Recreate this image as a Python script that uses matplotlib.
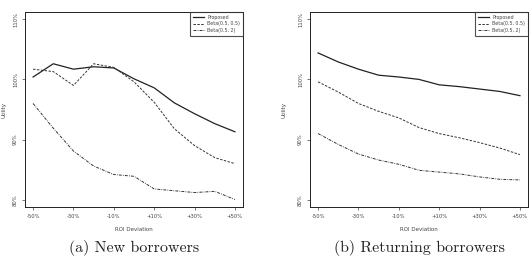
import matplotlib
matplotlib.use("Agg")
import matplotlib.pyplot as plt

# ROI deviation (%)
roi = [-50, -40, -30, -20, -10, 0, 10, 20, 30, 40, 50]
tick_pos = [-50, -30, -10, 10, 30, 50]
tick_lab = ["-50%", "-30%", "-10%", "+10%", "+30%", "+50%"]
ytick_pos = [80, 90, 100, 110]
ytick_lab = ["80%", "90%", "100%", "110%"]

# (a) new borrowers
new_prop = [100.4, 102.6, 101.7, 102.1, 101.9, 100.1, 98.6, 96.1, 94.3, 92.65, 91.3]
new_b55 = [101.7, 101.3, 99.0, 102.6, 102.0, 99.6, 96.2, 91.8, 89.0, 87.0, 86.0]
new_b52 = [96.0, 91.9, 88.1, 85.6, 84.2, 83.9, 81.8, 81.5, 81.2, 81.4, 80.05]

# (b) returning borrowers
ret_prop = [104.4, 102.9, 101.7, 100.7, 100.4, 100.0, 99.1, 98.8, 98.4, 98.0, 97.3]
ret_b55 = [99.6, 97.9, 96.0, 94.7, 93.6, 92.0, 91.0, 90.3, 89.5, 88.6, 87.5]
ret_b52 = [91.0, 89.2, 87.6, 86.6, 85.9, 84.9, 84.6, 84.3, 83.8, 83.4, 83.3]

panels = [
    ("(a) New borrowers", new_prop, new_b55, new_b52),
    ("(b) Returning borrowers", ret_prop, ret_b55, ret_b52),
]

fig = plt.figure(figsize=(5.31, 2.73), dpi=100)
W, H = 531, 273
lefts = [25, 310]
ypads = [5, 8]

for left, ypad, (cap, prop, b55, b52) in zip(lefts, ypads, panels):
    ax = fig.add_axes([left / W, (H - 207) / H, 218 / W, 195 / H])
    ax.plot(roi, prop, color="#222222", lw=0.9, ls="-", label="Proposed")
    ax.plot(roi, b55, color="#333333", lw=0.7, ls=(0, (2.5, 1.5)), label="Beta(0.5, 0.5)")
    ax.plot(roi, b52, color="#333333", lw=0.7, ls=(0, (3, 1.2, 0.8, 1.2)), label="Beta(0.5, 2)")
    ax.set_xlim(-54, 54)
    ax.set_ylim(78.8, 111.2)
    ax.set_xticks(tick_pos)
    ax.set_xticklabels(tick_lab, fontsize=3.8, color="#444444")
    ax.set_yticks(ytick_pos)
    ax.set_yticklabels(ytick_lab, fontsize=3.8, color="#444444", rotation=90, va="center")
    ax.tick_params(length=2.5, width=0.5, pad=2.5, colors="#444444")
    for s in ax.spines.values():
        s.set_linewidth(0.7)
        s.set_color("#222222")
    ax.set_xlabel("ROI Deviation", fontsize=4, color="#444444", labelpad=6)
    ax.set_ylabel("Utility", fontsize=4, color="#444444", labelpad=ypad)
    leg = ax.legend(loc="upper right", fontsize=3.4, frameon=True, fancybox=False,
                    borderaxespad=0.0, handlelength=2.4, handletextpad=0.6,
                    borderpad=0.6, labelspacing=0.35)
    leg.get_frame().set_edgecolor("#222222")
    leg.get_frame().set_linewidth(0.8)
    for t in leg.get_texts():
        t.set_color("#444444")
    fig.text((left + 109) / W, 1 - 248 / H, cap, fontsize=11.5, family="cmr10",
             ha="center", va="center", color="#222222")

fig.savefig("out.png", dpi=100)
